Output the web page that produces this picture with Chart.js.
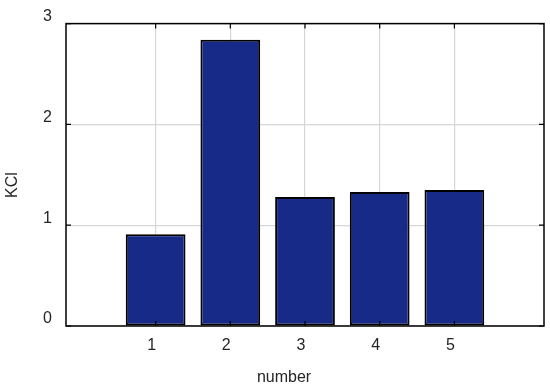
<!DOCTYPE html>
<html>
<head>
<meta charset="utf-8">
<script src="https://cdn.jsdelivr.net/npm/chart.js@4/dist/chart.umd.min.js"></script>
<style>
  body { margin: 0; background: #fff; }
  #wrap { width: 550px; height: 392px; }
</style>
</head>
<body>
<div id="wrap"><canvas id="myChart"></canvas></div>
<script>
const numbers = [1, 2, 3, 4, 5];
const kclValues = [0.91, 2.84, 1.28, 1.33, 1.35];
const yTicks = [0, 1, 2, 3];

const FONT = "'Liberation Sans', Arial, sans-serif";

// frame + inward ticks + axis titles, MATLAB look
const framePlugin = {
    id: 'frame',
    afterDatasetsDraw(chart) {
        const c = chart.ctx;
        const a = chart.chartArea;
        const xs = chart.scales.x;
        const ys = chart.scales.y;
        c.save();
        c.strokeStyle = '#000';
        c.lineWidth = 1.5;
        c.strokeRect(a.left, a.top, a.right - a.left, a.bottom - a.top);
        c.lineWidth = 1.2;
        c.beginPath();
        numbers.forEach(function(n) {
            const px = xs.getPixelForValue(n);
            c.moveTo(px, a.bottom); c.lineTo(px, a.bottom - 5);
            c.moveTo(px, a.top); c.lineTo(px, a.top + 5);
        });
        yTicks.forEach(function(t) {
            const py = ys.getPixelForValue(t);
            c.moveTo(a.left, py); c.lineTo(a.left + 5, py);
            c.moveTo(a.right, py); c.lineTo(a.right - 5, py);
        });
        c.stroke();

        c.fillStyle = '#262626';
        c.font = '16px ' + FONT;
        c.textAlign = 'center';
        c.textBaseline = 'middle';
        c.fillText('number', 284, 378);
        c.translate(13, 185);
        c.rotate(-Math.PI / 2);
        c.fillText('KCl', 0, 0);
        c.restore();
    }
};

new Chart(document.getElementById('myChart'), {
    type: 'bar',
    data: {
        datasets: [{
            data: numbers.map(function(n, i) { return { x: n, y: kclValues[i] }; }),
            backgroundColor: '#172a88',
            borderColor: '#000000',
            borderWidth: 2,
            borderSkipped: false,
            barPercentage: 0.8,
            categoryPercentage: 1
        }]
    },
    options: {
        responsive: true,
        maintainAspectRatio: false,
        animation: false,
        layout: { padding: { top: 23, right: 6, left: 0, bottom: 0 } },
        plugins: {
            legend: { display: false },
            tooltip: { enabled: false }
        },
        scales: {
            x: {
                type: 'linear',
                offset: false,
                min: -0.2,
                max: 6.2,
                afterBuildTicks(scale) {
                    scale.ticks = numbers.map(function(n) { return { value: n }; });
                },
                afterFit(scale) { scale.height = 66; },
                grid: { color: '#d6d6d6', lineWidth: 1.2, drawTicks: false, offset: false },
                border: { display: false },
                ticks: {
                    padding: 10,
                    labelOffset: -4,
                    color: '#262626',
                    font: { family: FONT, size: 16 }
                }
            },
            y: {
                min: 0,
                max: 3,
                afterBuildTicks(scale) {
                    scale.ticks = yTicks.map(function(t) { return { value: t }; });
                },
                afterFit(scale) { scale.width = 66; },
                grid: { color: '#d6d6d6', lineWidth: 1.2, drawTicks: false },
                border: { display: false },
                ticks: {
                    padding: 14,
                    labelOffset: -7,
                    color: '#262626',
                    font: { family: FONT, size: 16 }
                }
            }
        }
    },
    plugins: [framePlugin]
});
</script>
</body>
</html>
